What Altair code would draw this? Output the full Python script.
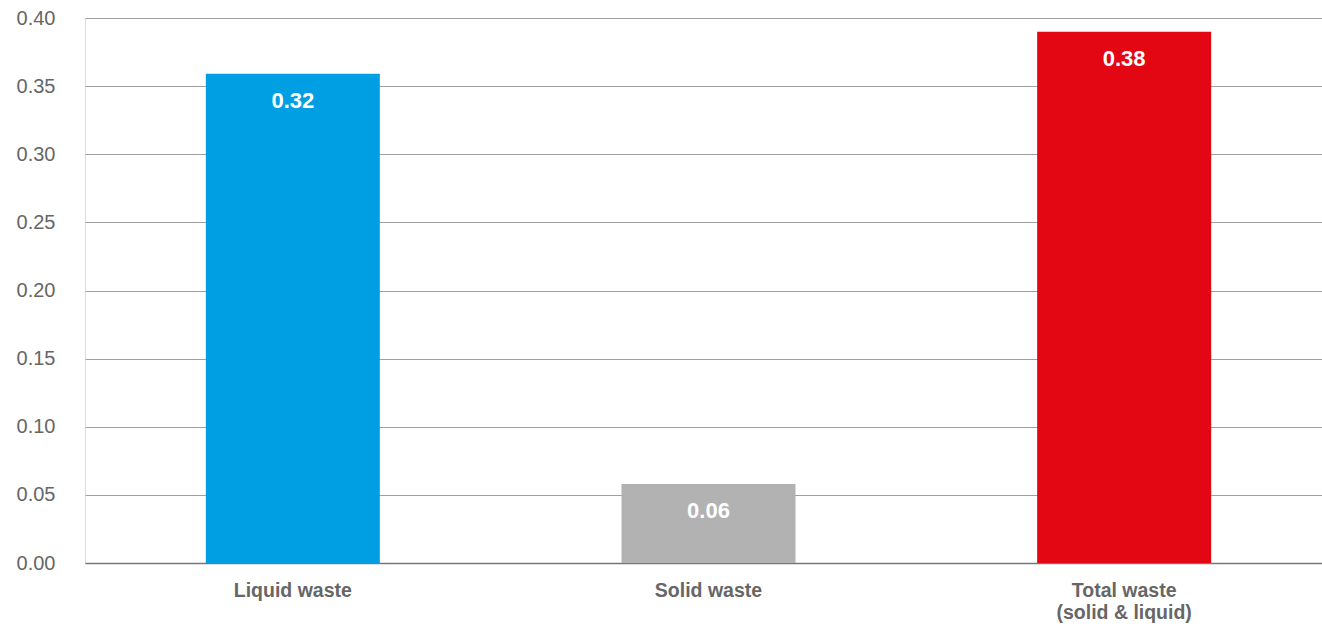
import altair as alt
import pandas as pd

categories = ["Liquid waste", "Solid waste", "Total waste|(solid & liquid)"]
bar_values = [0.359, 0.058, 0.390]
label_texts = ["0.32", "0.06", "0.38"]
colors = ["#009FE3", "#B2B2B2", "#E30613"]

df = pd.DataFrame({"cat": categories, "value": bar_values, "label": label_texts, "color": colors})

x = alt.X("cat:N", sort=categories, title=None,
          scale=alt.Scale(paddingInner=0, paddingOuter=0, range=[0, 1247]),
          axis=alt.Axis(labelAngle=0, labelExpr="split(datum.label, '|')",
                        labelFont="Liberation Sans", labelFontSize=19.5, labelFontWeight="bold",
                        labelColor="#666666", labelPadding=18, ticks=False,
                        domainColor="#777777", domainWidth=1.5, labelLineHeight=22))
y = alt.Y("value:Q", title=None,
          scale=alt.Scale(domain=[0, 0.4], nice=False),
          axis=alt.Axis(values=[0, 0.05, 0.1, 0.15, 0.2, 0.25, 0.3, 0.35, 0.4], format=".2f",
                        labelFont="Liberation Sans", labelFontSize=20, labelColor="#666666",
                        labelPadding=30, ticks=False, domain=False,
                        gridColor="#A0A0A0", gridWidth=1))

bars = alt.Chart(df).mark_bar(size=174).encode(
    x=x, y=y, color=alt.Color("color:N", scale=None)
)
text = alt.Chart(df).mark_text(dy=27.5, color="white", font="Liberation Sans",
                                fontSize=22, fontWeight="bold", baseline="middle").encode(
    x=alt.X("cat:N", sort=categories), y="value:Q", text="label:N"
)

chart = (bars + text).properties(
    width=1237, height=545,
    autosize=alt.AutoSizeParams(type="none"),
    padding={"left": 85, "top": 18, "right": 0, "bottom": 64},
).configure_view(stroke=None).configure(background="white")

chart.save("out.html", embed_options={"renderer": "svg", "actions": False})
